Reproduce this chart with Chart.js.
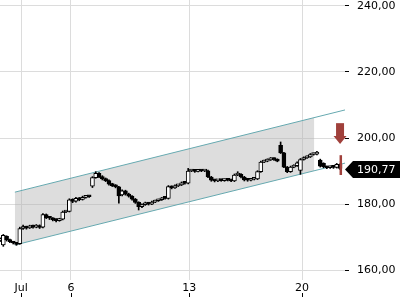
<!DOCTYPE html>
<html>
<head>
<meta charset="utf-8">
<script src="https://cdn.jsdelivr.net/npm/chart.js@4.4.0/dist/chart.umd.min.js"></script>
<style>
  html, body { margin: 0; padding: 0; background: #fff; }
  #wrap { width: 400px; height: 300px; }
</style>
</head>
<body>
<div id="wrap"><canvas id="chart"></canvas></div>
<script>
// Kerzen (Index = Zeitschritt)
var opens = [
  169.0, 167.6, 170.2, 169.2, 168.5, 168.2, 168.0, 172.6, 173.0, 172.8,
  173.3, 173.0, 173.5, 173.0, 176.8, 175.9, 175.7, 175.2, 175.0, 175.4,
  177.6, 177.8, 181.3, 180.9, 181.7, 181.4, 182.0, 182.3, 185.4, 188.0,
  189.3, 188.3, 187.6, 187.1, 186.0, 185.6, 185.2, 182.8, 184.0, 183.0,
  182.4, 181.5, 180.5, 179.2, 179.8, 180.3, 180.0, 180.6, 181.0, 181.3,
  181.8, 181.7, 185.3, 184.9, 185.5, 185.8, 186.4, 186.3, 190.0, 190.1,
  189.9, 190.2, 190.0, 190.1, 188.2, 187.2, 187.0, 187.3, 187.1, 187.4,
  187.2, 187.0, 188.8, 189.0, 188.2, 187.3, 187.2, 187.5, 187.6, 189.8,
  192.7, 193.0, 193.4, 193.8, 193.5, 197.8, 195.5, 191.2, 189.8, 191.2,
  191.6, 190.2, 193.5, 194.0, 194.3, 195.0, 195.1, 193.3, 192.3, 191.3,
  191.0, 191.3, 191.1, 192.0
];
var closes = [
  169.4, 170.5, 169.2, 168.6, 168.2, 167.8, 172.6, 173.0, 172.7, 173.3,
  173.0, 173.5, 172.9, 176.8, 175.9, 175.7, 175.2, 175.0, 175.4, 177.6,
  177.8, 181.3, 180.8, 181.7, 181.3, 182.0, 182.3, 182.2, 188.0, 189.3,
  188.3, 187.6, 187.1, 186.0, 185.6, 185.2, 182.5, 184.0, 183.0, 182.4,
  181.5, 180.5, 179.2, 179.8, 180.3, 180.0, 180.6, 181.0, 181.3, 181.8,
  181.7, 185.3, 184.9, 185.5, 185.8, 186.4, 186.3, 190.0, 190.1, 189.9,
  190.2, 190.0, 190.1, 188.2, 187.2, 187.0, 187.3, 187.1, 187.4, 187.2,
  187.0, 188.8, 189.0, 188.2, 187.3, 187.2, 187.5, 187.6, 189.8, 192.7,
  193.0, 193.4, 193.8, 193.5, 193.0, 195.5, 191.2, 189.8, 191.2, 191.6,
  192.5, 193.5, 194.0, 194.3, 195.0, 195.1, 195.6, 191.5, 191.3, 191.0,
  191.3, 191.1, 192.0, 190.77
];
var highs = [
  169.8, 170.8, 170.4, 169.4, 168.7, 168.3, 173.0, 173.6, 173.3, 173.6,
  173.6, 173.8, 173.7, 177.1, 177.0, 176.2, 175.9, 175.5, 175.7, 177.9,
  178.0, 181.6, 181.6, 182.0, 182.0, 182.4, 182.6, 182.5, 188.3, 189.8,
  189.5, 188.6, 187.9, 187.3, 186.3, 185.9, 185.4, 184.3, 184.2, 183.3,
  182.6, 181.7, 180.7, 180.1, 180.6, 180.5, 180.9, 181.2, 181.5, 182.0,
  182.0, 185.6, 185.5, 185.8, 186.0, 186.7, 186.7, 190.8, 190.4, 190.3,
  190.5, 190.4, 190.3, 190.3, 188.4, 187.4, 187.5, 187.5, 187.6, 187.6,
  187.4, 189.1, 189.8, 189.2, 188.4, 187.5, 187.7, 187.8, 190.1, 193.0,
  193.3, 193.7, 194.1, 194.0, 193.7, 198.8, 195.7, 191.4, 191.5, 191.9,
  192.8, 193.8, 194.3, 194.6, 195.3, 195.4, 196.0, 193.6, 192.5, 191.5,
  191.6, 191.5, 192.3, 192.2
];
var lows = [
  168.6, 167.2, 168.8, 168.3, 167.9, 167.5, 167.8, 172.3, 172.4, 172.6,
  172.7, 172.8, 172.6, 172.8, 175.6, 175.3, 174.9, 174.6, 174.8, 175.2,
  177.4, 177.6, 180.4, 180.6, 181.0, 181.2, 181.8, 182.0, 185.0, 187.8,
  188.0, 187.3, 186.8, 185.7, 185.3, 184.9, 180.3, 182.5, 182.7, 182.1,
  181.2, 180.2, 178.2, 178.9, 179.6, 179.7, 179.8, 180.4, 180.8, 181.1,
  181.5, 181.5, 184.6, 184.7, 185.3, 185.6, 186.0, 186.1, 189.8, 189.6,
  189.7, 189.8, 189.8, 188.0, 186.9, 186.7, 186.8, 186.9, 186.9, 187.0,
  186.8, 186.8, 188.6, 187.9, 187.0, 186.9, 187.0, 187.3, 187.4, 189.6,
  192.5, 192.8, 193.2, 193.2, 192.8, 195.3, 191.0, 189.5, 189.6, 191.0,
  191.4, 189.0, 193.3, 193.8, 194.1, 194.8, 194.9, 191.2, 191.0, 190.7,
  190.8, 190.8, 190.9, 190.5
];

// Achsenbeschriftung
var tickIdx = [6.4, 21.5, 57.3, 91.5];
var tickLabels = ['Jul', '6', '13', '20'];
var yTicks = [160, 180, 200, 220, 240];

// Trendkanal (Start/Ende in Index, Werte oben/unten)
var channelX = [4.5, 104.5];
var channelUpper = [183.6, 208.5];
var channelLower = [167.6, 192.4];
var channelFillX = [4.5, 95.2];
var channelFillUpper = [183.6, 206.2];
var channelFillLower = [167.6, 190.1];

// Signal-Pfeil und Marker an der letzten Kerze
var arrowValues = [204.5, 200.6, 198.2]; // oben, Hals, Spitze
var markerValues = [194.8, 188.8];

Chart.defaults.font.family = 'DejaVu Sans';
Chart.defaults.font.size = 11;
Chart.defaults.color = '#000';

var bodies = [], wicks = [];
for (var i = 0; i < closes.length; i++) {
  bodies.push({ x: i, y: [opens[i], closes[i]] });
  wicks.push({ x: i, y: [lows[i], highs[i]] });
}
var bodyFill = closes.map(function (c, i) { return c >= opens[i] ? '#fff' : '#000'; });

function pts(xs, ys) {
  return xs.map(function (v, i) { return { x: v, y: ys[i] }; });
}

var fmt = function (v) { return v.toFixed(2).replace('.', ','); };

var extras = {
  id: 'extras',
  afterDatasetsDraw: function (chart) {
    var ctx = chart.ctx, xs = chart.scales.x, ys = chart.scales.y;
    var last = closes.length - 1;
    var cx = xs.getPixelForValue(last);
    ctx.save();
    ctx.fillStyle = '#a0403b';
    // Pfeil nach unten
    var yTop = ys.getPixelForValue(arrowValues[0]);
    var yNeck = ys.getPixelForValue(arrowValues[1]);
    var yTip = ys.getPixelForValue(arrowValues[2]);
    ctx.fillRect(cx - 4, yTop, 8, yNeck - yTop);
    ctx.beginPath();
    ctx.moveTo(cx - 6.5, yNeck);
    ctx.lineTo(cx + 6.5, yNeck);
    ctx.lineTo(cx, yTip);
    ctx.closePath();
    ctx.fill();
    // senkrechter Marker
    var m1 = ys.getPixelForValue(markerValues[0]);
    var m2 = ys.getPixelForValue(markerValues[1]);
    ctx.fillRect(cx - 0.5, m1, 2.5, m2 - m1);
    ctx.restore();
  },
  afterDraw: function (chart) {
    var ctx = chart.ctx, xs = chart.scales.x, ys = chart.scales.y;
    var area = chart.chartArea;
    ctx.save();
    // kleine Striche unter den Datumslabels
    ctx.strokeStyle = '#000';
    ctx.lineWidth = 1;
    tickIdx.forEach(function (v) {
      var px = Math.round(xs.getPixelForValue(v)) + 0.5;
      ctx.beginPath();
      ctx.moveTo(px, 293);
      ctx.lineTo(px, 297);
      ctx.stroke();
    });
    // Kursschild rechts
    var last = closes[closes.length - 1];
    var py = ys.getPixelForValue(last) + 1;
    var x0 = area.right;
    ctx.fillStyle = '#000';
    ctx.beginPath();
    ctx.moveTo(x0, py);
    ctx.lineTo(x0 + 8, py - 8.5);
    ctx.lineTo(chart.width, py - 8.5);
    ctx.lineTo(chart.width, py + 8.5);
    ctx.lineTo(x0 + 8, py + 8.5);
    ctx.closePath();
    ctx.fill();
    ctx.fillStyle = '#fff';
    ctx.textBaseline = 'middle';
    ctx.textAlign = 'left';
    ctx.font = '11px "DejaVu Sans"';
    ctx.fillText(fmt(last), x0 + 12, py + 0.5);
    ctx.restore();
  }
};

new Chart(document.getElementById('chart'), {
  type: 'bar',
  data: {
    datasets: [
      {
        type: 'line', data: pts(channelFillX, channelFillLower),
        borderWidth: 0, pointRadius: 0, fill: false, order: 10
      },
      {
        type: 'line', data: pts(channelFillX, channelFillUpper),
        borderWidth: 0, pointRadius: 0, fill: '-1',
        backgroundColor: 'rgba(175,175,175,0.42)', order: 10
      },
      {
        type: 'line', data: pts(channelX, channelUpper),
        borderColor: '#66a9b0', borderWidth: 1, pointRadius: 0, fill: false, order: 5
      },
      {
        type: 'line', data: pts(channelX, channelLower),
        borderColor: '#66a9b0', borderWidth: 1, pointRadius: 0, fill: false, order: 5
      },
      {
        data: wicks, backgroundColor: '#000', borderWidth: 0,
        barThickness: 1, grouped: false, order: 2
      },
      {
        data: bodies, backgroundColor: bodyFill, borderColor: '#000', borderWidth: 1,
        borderSkipped: false, barThickness: 4, minBarLength: 2, grouped: false, order: 1
      }
    ]
  },
  options: {
    responsive: true,
    maintainAspectRatio: false,
    animation: false,
    layout: { padding: 0 },
    plugins: { legend: { display: false }, tooltip: { enabled: false } },
    scales: {
      x: {
        type: 'linear', min: 0, max: 104.5, offset: false,
        grid: { color: '#dcdcdc', drawTicks: false, offset: false },
        border: { display: false },
        ticks: {
          padding: 2, maxRotation: 0,
          callback: function (v, i) { return tickLabels[i]; }
        },
        afterBuildTicks: function (s) { s.ticks = tickIdx.map(function (v) { return { value: v }; }); },
        afterFit: function (s) { s.height = 20; s.paddingLeft = 0; s.paddingRight = 0; }
      },
      y: {
        position: 'right', min: 157, max: 241.8,
        grid: { color: '#dcdcdc', tickColor: '#000', tickLength: 4 },
        border: { display: false },
        ticks: { padding: 8, callback: function (v) { return fmt(v); } },
        afterBuildTicks: function (s) { s.ticks = yTicks.map(function (v) { return { value: v }; }); },
        afterFit: function (s) { s.width = 55; s.paddingTop = 0; s.paddingBottom = 0; }
      }
    }
  },
  plugins: [extras]
});
</script>
</body>
</html>
